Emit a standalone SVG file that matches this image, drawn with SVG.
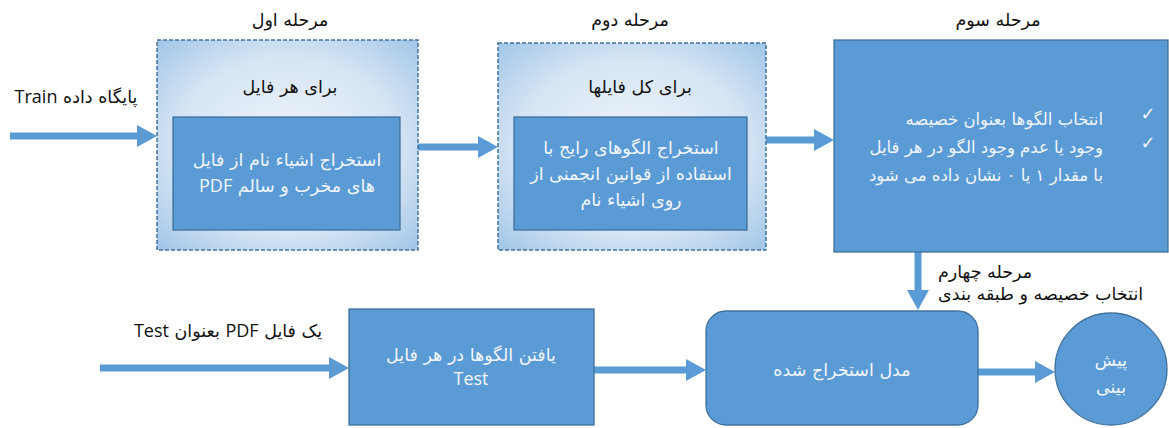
<svg xmlns="http://www.w3.org/2000/svg" width="1169" height="428" viewBox="0 0 1169 428">
<style>
text{font-family:"DejaVu Sans","Noto Sans",sans-serif;font-size:17.5px;}
.fa{direction:rtl;}
.c{text-anchor:middle;}
.lat{font-family:"Open Sans","Liberation Sans",sans-serif;font-size:18px;}
.dark{fill:#111;}
.light{fill:#f2f6fb;}
.s3{font-size:16.5px;}
.box{fill:#5B9BD5;stroke:#41719C;stroke-width:1.3;}
.dash{fill:url(#rg);stroke:#41719C;stroke-width:1.5;stroke-dasharray:4 2;}
.con{stroke:#5B9BD5;stroke-width:7;fill:none;marker-end:url(#ah);}
</style>
<defs>
<radialGradient id="rg" cx="0.5" cy="0.5" r="0.7">
<stop offset="0" stop-color="#f0f5fb"/>
<stop offset="0.6" stop-color="#d6e5f4"/>
<stop offset="1" stop-color="#a2c6e8"/>
</radialGradient>
<marker id="ah" viewBox="0 0 20 22" markerWidth="20" markerHeight="22" markerUnits="userSpaceOnUse" refX="5" refY="11" orient="auto">
<path d="M0,0 L20,11 L0,22 Z" fill="#5B9BD5"/>
</marker>
</defs>
<g id="connectors">
<line class="con" x1="10" y1="136" x2="142" y2="136"/>
<line class="con" x1="418" y1="147" x2="483" y2="147"/>
<line class="con" x1="766" y1="140" x2="819" y2="140"/>
<line class="con" x1="918" y1="252" x2="918" y2="295"/>
<line class="con" x1="100" y1="368" x2="334" y2="368"/>
<line class="con" x1="594" y1="370" x2="691" y2="370"/>
<line class="con" x1="978" y1="372" x2="1040" y2="372"/>
</g>
<g id="labels">
<text class="fa c dark" x="76" y="103">پایگاه داده <tspan class="lat">Train</tspan></text>
<text class="fa c dark" x="228" y="337">یک فایل  <tspan class="lat">PDF</tspan> بعنوان <tspan class="lat">Test</tspan></text>
<text class="fa dark" x="938" y="278" text-anchor="end">مرحله چهارم</text>
<text class="fa dark" x="938" y="300" text-anchor="end">انتخاب خصیصه و طبقه بندی</text>
</g>
<g id="stage1">
<text class="fa c dark" x="290" y="26">مرحله اول</text>
<rect class="dash" x="157" y="40" width="261" height="210"/>
<text class="fa c dark" x="290" y="93">برای هر فایل</text>
<rect class="box" x="173" y="117" width="227" height="113"/>
<text class="fa c light" x="287" y="166">استخراج اشیاء نام از فایل</text>
<text class="fa c light" x="287" y="192">های مخرب و سالم <tspan class="lat">PDF</tspan></text>
</g>
<g id="stage2">
<text class="fa c dark" x="630" y="26">مرحله دوم</text>
<rect class="dash" x="498" y="43" width="268" height="207"/>
<text class="fa c dark" x="640" y="93">برای کل فایلها</text>
<rect class="box" x="514" y="117" width="233" height="113"/>
<text class="fa c light" x="631" y="154">استخراج الگوهای رایج با</text>
<text class="fa c light" x="631" y="180">استفاده از قوانین انجمنی از</text>
<text class="fa c light" x="631" y="206">روی اشیاء نام</text>
</g>
<g id="stage3">
<text class="fa c dark" x="998" y="26">مرحله سوم</text>
<rect class="box" x="834" y="40" width="334" height="212"/>
<text class="light" x="1148" y="120" text-anchor="middle" style="font-size:18px">✓</text>
<text class="light" x="1148" y="149" text-anchor="middle" style="font-size:18px">✓</text>
<text class="fa light s3" x="1103" y="125" text-anchor="start">انتخاب الگوها بعنوان خصیصه</text>
<text class="fa light s3" x="1103" y="153" text-anchor="start">وجود یا عدم وجود الگو در هر فایل</text>
<text class="fa light s3" x="1103" y="181" text-anchor="start">با مقدار ۱ یا ۰ نشان داده می شود</text>
</g>
<g id="test">
<rect class="box" x="349" y="309" width="245" height="116"/>
<text class="fa c light" x="471" y="361">یافتن الگوها در هر فایل</text>
<text class="c light lat" x="471" y="385">Test</text>
</g>
<g id="model">
<rect class="box" x="706" y="311" width="272" height="114" rx="20" ry="20"/>
<text class="fa c light" x="842" y="376">مدل استخراج شده</text>
</g>
<g id="predict">
<circle class="box" cx="1111" cy="369" r="56"/>
<text class="fa c light" x="1111" y="366">پیش</text>
<text class="fa c light" x="1111" y="393">بینی</text>
</g>
</svg>
